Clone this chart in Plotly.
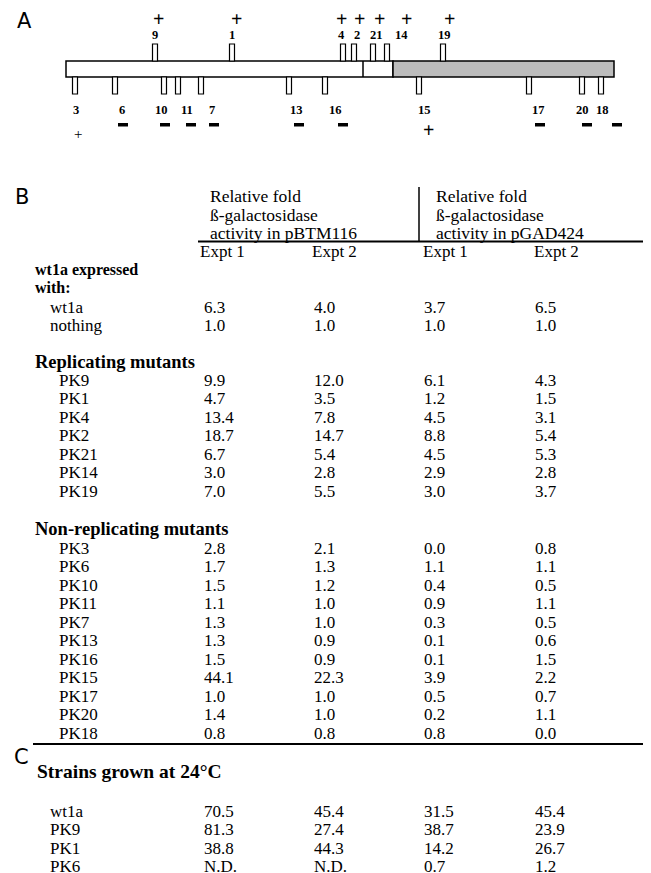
import plotly.graph_objects as go

# ---------------- DATA ----------------
# Panel A: mutation sites along the gene (units from start of gene box)
gene_length = 548
gene_divider = 297          # internal boundary in the white region
gene_shaded_start = 327     # start of shaded (C-terminal) region

up_names = ["9", "1", "4", "2", "21", "14", "19"]
up_pos = [89, 166, 277, 288, 307, 321, 377]
up_signs = ["+", "+", "+", "+", "+", "+", "+"]

down_names = ["3", "6", "10", "11", "7", "13", "16", "15", "17", "20", "18"]
down_pos = [9, 49, 98, 112, 135, 223, 259, 353, 463, 516, 535]
down_signs = ["+", "-", "-", "-", "-", "-", "-", "+", "-", "-", "-"]

# Panel B table
col_headers = ["Expt 1", "Expt 2", "Expt 1", "Expt 2"]
group_headers = ["Relative fold\nß-galactosidase\nactivity in pBTM116",
                 "Relative fold\nß-galactosidase\nactivity in pGAD424"]

wt_labels = ["wt1a", "nothing"]
wt_e1_btm = [6.3, 1.0]
wt_e2_btm = [4.0, 1.0]
wt_e1_gad = [3.7, 1.0]
wt_e2_gad = [6.5, 1.0]

rep_labels = ["PK9", "PK1", "PK4", "PK2", "PK21", "PK14", "PK19"]
rep_e1_btm = [9.9, 4.7, 13.4, 18.7, 6.7, 3.0, 7.0]
rep_e2_btm = [12.0, 3.5, 7.8, 14.7, 5.4, 2.8, 5.5]
rep_e1_gad = [6.1, 1.2, 4.5, 8.8, 4.5, 2.9, 3.0]
rep_e2_gad = [4.3, 1.5, 3.1, 5.4, 5.3, 2.8, 3.7]

non_labels = ["PK3", "PK6", "PK10", "PK11", "PK7", "PK13", "PK16", "PK15", "PK17", "PK20", "PK18"]
non_e1_btm = [2.8, 1.7, 1.5, 1.1, 1.3, 1.3, 1.5, 44.1, 1.0, 1.4, 0.8]
non_e2_btm = [2.1, 1.3, 1.2, 1.0, 1.0, 0.9, 0.9, 22.3, 1.0, 1.0, 0.8]
non_e1_gad = [0.0, 1.1, 0.4, 0.9, 0.3, 0.1, 0.1, 3.9, 0.5, 0.2, 0.8]
non_e2_gad = [0.8, 1.1, 0.5, 1.1, 0.5, 0.6, 1.5, 2.2, 0.7, 1.1, 0.0]

# Panel C table (None = not determined)
c_labels = ["wt1a", "PK9", "PK1", "PK6"]
c_e1_btm = [70.5, 81.3, 38.8, None]
c_e2_btm = [45.4, 27.4, 44.3, None]
c_e1_gad = [31.5, 38.7, 14.2, 0.7]
c_e2_gad = [45.4, 23.9, 26.7, 1.2]

# ---------------- LAYOUT CONSTANTS ----------------
W, H = 651, 873
OFF = 8                  # page body margin
SERIF = "Liberation Serif"
SANS = "DejaVu Sans"
GX0 = 66                 # pixel x of gene start
BOX_TOP, BOX_BOT = 61, 77
TICK_W, TICK_H = 5, 17
up_label_dx = [0, 0, -2, 3, 3, 14, 1]
up_sign_dx = [3, 4, -2, 5, 6, 19, 6]
down_label_dx = [1, 7, -3, 9, 11, 7, 10, 5, 9, 0, 1]
down_sign_dx = [3, 8, 1, 13, 13, 10, 18, 9, 11, 5, 16]

ROW = 18.5
COLS_X = [202, 312, 422, 533]
FS = 17

fig = go.Figure()
shapes = []
ann = []


def txt(x, y, s, size=FS, bold=False, family=SERIF, xanchor="left", yanchor="middle"):
    ann.append(dict(x=x, y=y, text=("<b>%s</b>" % s) if bold else s, showarrow=False,
                    xanchor=xanchor, yanchor=yanchor, xref="x", yref="y",
                    font=dict(family=family, size=size, color="black")))


def fmt(v):
    return "N.D." if v is None else "%.1f" % v


# ---------------- PANEL A ----------------
txt(15, 21, "A", size=21, family=SANS)
# gene box
shapes.append(dict(type="rect", x0=GX0, x1=GX0 + gene_shaded_start, y0=BOX_TOP, y1=BOX_BOT,
                   line=dict(color="black", width=1.5), fillcolor="white"))
shapes.append(dict(type="rect", x0=GX0 + gene_shaded_start, x1=GX0 + gene_length, y0=BOX_TOP, y1=BOX_BOT,
                   line=dict(color="black", width=1.5), fillcolor="#bcbcbc"))
shapes.append(dict(type="line", x0=GX0 + gene_divider, x1=GX0 + gene_divider, y0=BOX_TOP, y1=BOX_BOT,
                   line=dict(color="black", width=1.5)))

for i, (n, p, s) in enumerate(zip(up_names, up_pos, up_signs)):
    x = GX0 + p
    shapes.append(dict(type="rect", x0=x - TICK_W / 2, x1=x + TICK_W / 2, y0=BOX_TOP - TICK_H, y1=BOX_TOP,
                       line=dict(color="black", width=1.2), fillcolor="white"))
    txt(x + up_label_dx[i], 35, n, size=12.5, bold=True, xanchor="center")
    txt(x + up_sign_dx[i], 19, "+", size=20, bold=True, xanchor="center")

for i, (n, p, s) in enumerate(zip(down_names, down_pos, down_signs)):
    x = GX0 + p
    shapes.append(dict(type="rect", x0=x - TICK_W / 2, x1=x + TICK_W / 2, y0=BOX_BOT, y1=BOX_BOT + TICK_H,
                       line=dict(color="black", width=1.2), fillcolor="white"))
    txt(x + down_label_dx[i], 110, n, size=12.5, bold=True, xanchor="center")
    sx = x + down_sign_dx[i]
    if s == "-":
        shapes.append(dict(type="rect", x0=sx - 5, x1=sx + 5, y0=123, y1=126.5,
                           line=dict(width=0), fillcolor="black"))
    elif i == 0:
        txt(sx, 134, "+", size=15, xanchor="center")
    else:
        txt(sx, 130, "+", size=20, bold=True, xanchor="center")

# ---------------- PANEL B ----------------
txt(13, 197, "B", size=21, family=SANS)
for gi, gx in enumerate([208, 434]):
    for li, line in enumerate(group_headers[gi].split("\n")):
        txt(gx, 196 + li * ROW, line, size=17.5)
shapes.append(dict(type="line", x0=419, x1=419, y0=187, y1=241, line=dict(color="black", width=1.5)))
shapes.append(dict(type="line", x0=198, x1=643, y0=241.5, y1=241.5, line=dict(color="black", width=2)))
hdr_x = [198, 310, 421, 532]
for hx, h in zip(hdr_x, col_headers):
    txt(hx, 251, h)

txt(33, 270, "wt1a expressed", size=16, bold=True)
txt(33, 287.5, "with:", size=16, bold=True)


def section(labels, cols, y0, lx):
    for r, lab in enumerate(labels):
        y = y0 + r * ROW
        txt(lx, y, lab)
        for cx, col in zip(COLS_X, cols):
            txt(cx, y, fmt(col[r]))


section(wt_labels, [wt_e1_btm, wt_e2_btm, wt_e1_gad, wt_e2_gad], 307, 48)
txt(33, 362, "Replicating mutants", size=18.5, bold=True)
section(rep_labels, [rep_e1_btm, rep_e2_btm, rep_e1_gad, rep_e2_gad], 380, 57)
txt(33, 529, "Non-replicating mutants", size=18.5, bold=True)
section(non_labels, [non_e1_btm, non_e2_btm, non_e1_gad, non_e2_gad], 548, 57)
shapes.append(dict(type="line", x0=33, x1=643, y0=744, y1=744, line=dict(color="black", width=2)))

# ---------------- PANEL C ----------------
txt(12, 757, "C", size=21, family=SANS)
txt(35, 771, "Strains grown at 24°C", size=19.5, bold=True)
section(c_labels, [c_e1_btm, c_e2_btm, c_e1_gad, c_e2_gad], 811, 48)

fig.update_layout(
    width=W - OFF, height=H - OFF, margin=dict(l=0, r=0, t=0, b=0),
    paper_bgcolor="white", plot_bgcolor="white",
    xaxis=dict(range=[OFF, W], visible=False, fixedrange=True),
    yaxis=dict(range=[H, OFF], visible=False, fixedrange=True),
    shapes=shapes, annotations=ann, showlegend=False,
)
fig.write_html("out.html")
